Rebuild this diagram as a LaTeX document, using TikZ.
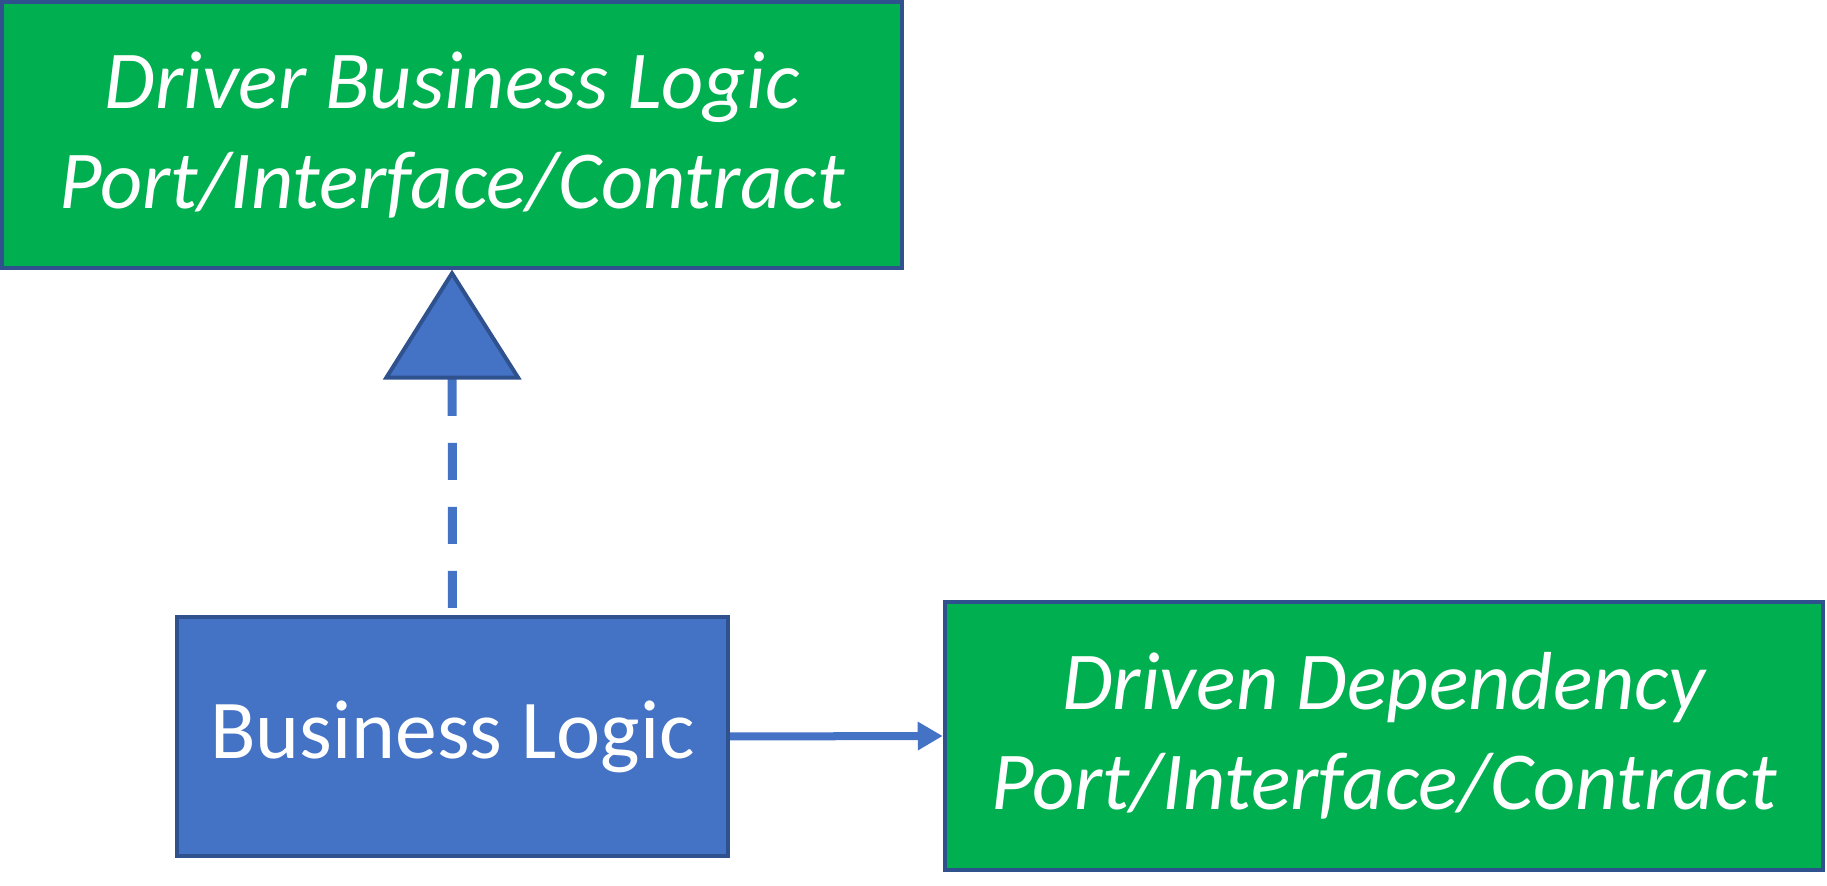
\documentclass[tikz,border=0pt]{standalone}
\usepackage{fontspec}
\setmainfont{Carlito}
\usepackage{tikz}
\usetikzlibrary{arrows.meta}
\definecolor{boxgreen}{HTML}{00B050}
\definecolor{boxblue}{HTML}{4472C4}
\definecolor{edgeblue}{HTML}{2F528F}
\tikzset{
  portbox/.style={draw=edgeblue, fill=boxgreen, line width=0.04cm, inner sep=0pt,
    text=white, align=center, font=\fontsize{23.4}{28.4}\selectfont\itshape},
  logicbox/.style={draw=edgeblue, fill=boxblue, line width=0.04cm, inner sep=0pt,
    text=white, align=center, font=\fontsize{23.8}{28.4}\selectfont},
  realizes/.style={draw=boxblue, line width=0.09cm, dash pattern=on 0.37cm off 0.27cm,
    dash phase=0.57cm,
    -{Triangle[length=1.1cm, width=1.38cm, fill=boxblue, color=edgeblue, line width=0.04cm]}},
  uses/.style={draw=boxblue, line width=0.08cm, -{Triangle[length=0.25cm, width=0.27cm]}}
}

\begin{document}
\begin{tikzpicture}[x=0.01cm, y=-0.01cm]
  \useasboundingbox (0,0) rectangle (1827,886);

  % ports
  \node[portbox, minimum width=8.99cm, minimum height=2.65cm] (driver) at (452,135)
    {Driver Business Logic\\Port/Interface/Contract};
  \node[portbox, minimum width=8.78cm, minimum height=2.68cm] (driven) at (1384,736)
    {Driven Dependency\\Port/Interface/Contract};

  % core
  \node[logicbox, minimum width=5.51cm, minimum height=2.39cm] (logic) at (452.5,736.5)
    {Business Logic};

  % connectors
  \draw[realizes] (logic.north) -- (driver.south);
  \draw[uses] (logic.east) -- (driven.west);
\end{tikzpicture}
\end{document}
